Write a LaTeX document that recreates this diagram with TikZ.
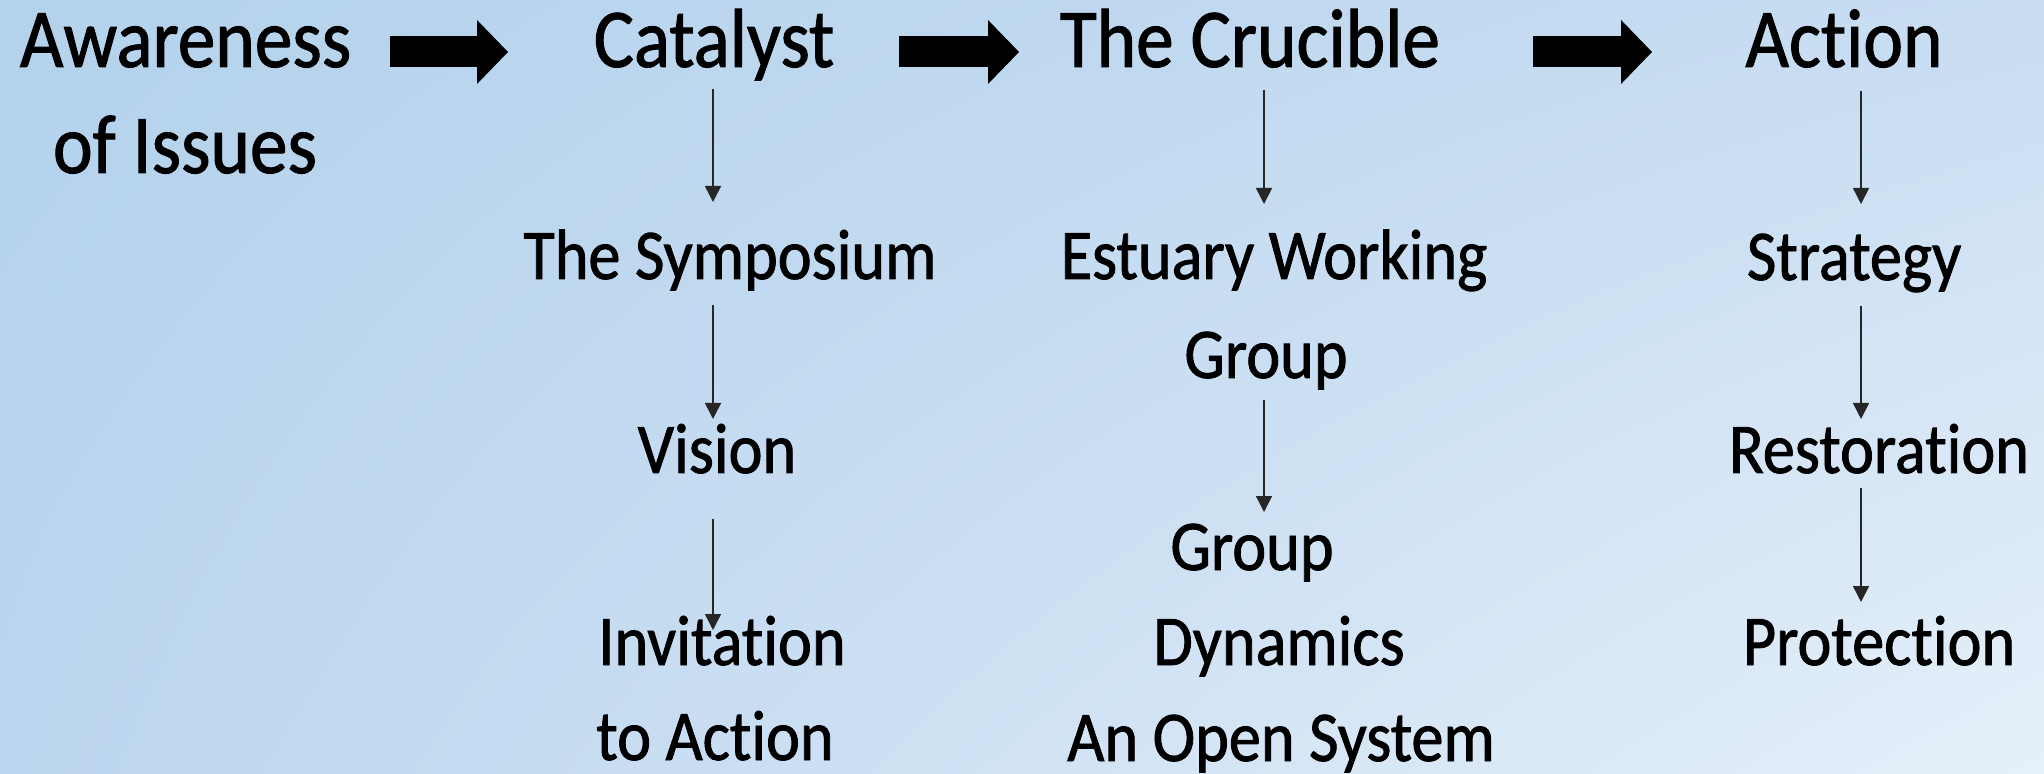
\documentclass[tikz,border=0pt]{standalone}
\usepackage{fontspec}
\setmainfont{Carlito}[FakeStretch=0.9, FakeBold=1.2, Ligatures=NoCommon]
\usetikzlibrary{arrows.meta,shadings}
\definecolor{bgul}{RGB}{180,210,236}
\definecolor{bgur}{RGB}{200,221,242}
\definecolor{bgll}{RGB}{187,213,238}
\definecolor{bglr}{RGB}{230,240,250}

\begin{document}
\begin{tikzpicture}[
  stage/.style={font=\fontsize{23.8}{28}\selectfont, inner sep=0pt, text height=5mm, text depth=2mm, anchor=base},
  item/.style={font=\fontsize{20.3}{24}\selectfont, inner sep=0pt, text height=5mm, text depth=2mm, anchor=base},
  link/.style={-{Triangle[length=1.6mm,width=1.6mm]}, line width=0.45pt, draw=black!85},
  bigarrow/.style={line width=3.1mm, -{Triangle[length=3.1mm,width=6.4mm,line width=0pt]}}]
\useasboundingbox (0,0) rectangle (20.44,-7.74);
\shade[upper left=bgul, upper right=bgur, lower left=bgll, lower right=bglr] (0,0) rectangle (20.44,-7.74);

\node (aw1) [stage] at (1.855,-0.67) {Awareness};
\node (aw2) [stage] at (1.85,-1.73) {of Issues};
\node (cat) [stage] at (7.14,-0.67) {Catalyst};
\node (cru) [stage] at (12.50,-0.67) {The Crucible};
\node (act) [stage] at (18.44,-0.67) {Action};

\node (sym) [item] at (7.30,-2.79) {The Symposium};
\node (vis) [item] at (7.17,-4.73) {Vision};
\node (inv1) [item] at (7.22,-6.65) {Invitation};
\node (inv2) [item] at (7.15,-7.60) {to Action};

\node (ewg1) [item] at (12.74,-2.79) {Estuary Working};
\node (ewg2) [item] at (12.66,-3.78) {Group};
\node (gd1) [item] at (12.52,-5.70) {Group};
\node (gd2) [item] at (12.79,-6.65) {Dynamics};
\node (gd3) [item] at (12.81,-7.61) {An Open System};

\node (str) [item] at (18.54,-2.80) {Strategy};
\node (res) [item] at (18.79,-4.73) {Restoration};
\node (pro) [item] at (18.79,-6.65) {Protection};

\coordinate (colA) at (7.13,0);
\coordinate (colB) at (12.64,0);
\coordinate (colC) at (18.61,0);

\draw[bigarrow, shorten <=2.045cm, shorten >=2.06cm] (aw1.center) -- (cat.center);
\draw[bigarrow, shorten <=1.85cm, shorten >=2.31cm] (cat.center) -- (cru.center);
\draw[bigarrow, shorten <=2.83cm, shorten >=1.92cm] (cru.center) -- (act.center);

\draw[link, shorten <=3.7mm, shorten >=6.2mm] (cat.center -| colA) -- (sym.center -| colA);
\draw[link, shorten <=4.1mm, shorten >=3.9mm] (sym.center -| colA) -- (vis.center -| colA);
\draw[link, shorten <=6.1mm, shorten >=2.0mm] (vis.center -| colA) -- (inv1.center -| colA);
\draw[link, shorten <=3.8mm, shorten >=6.0mm] (cru.center -| colB) -- (ewg1.center -| colB);
\draw[link, shorten <=3.7mm, shorten >=4.3mm] (ewg2.center -| colB) -- (gd1.center -| colB);
\draw[link, shorten <=3.9mm, shorten >=6.1mm] (act.center -| colC) -- (str.center -| colC);
\draw[link, shorten <=4.1mm, shorten >=3.9mm] (str.center -| colC) -- (res.center -| colC);
\draw[link, shorten <=3.0mm, shorten >=4.8mm] (res.center -| colC) -- (pro.center -| colC);
\end{tikzpicture}
\end{document}
